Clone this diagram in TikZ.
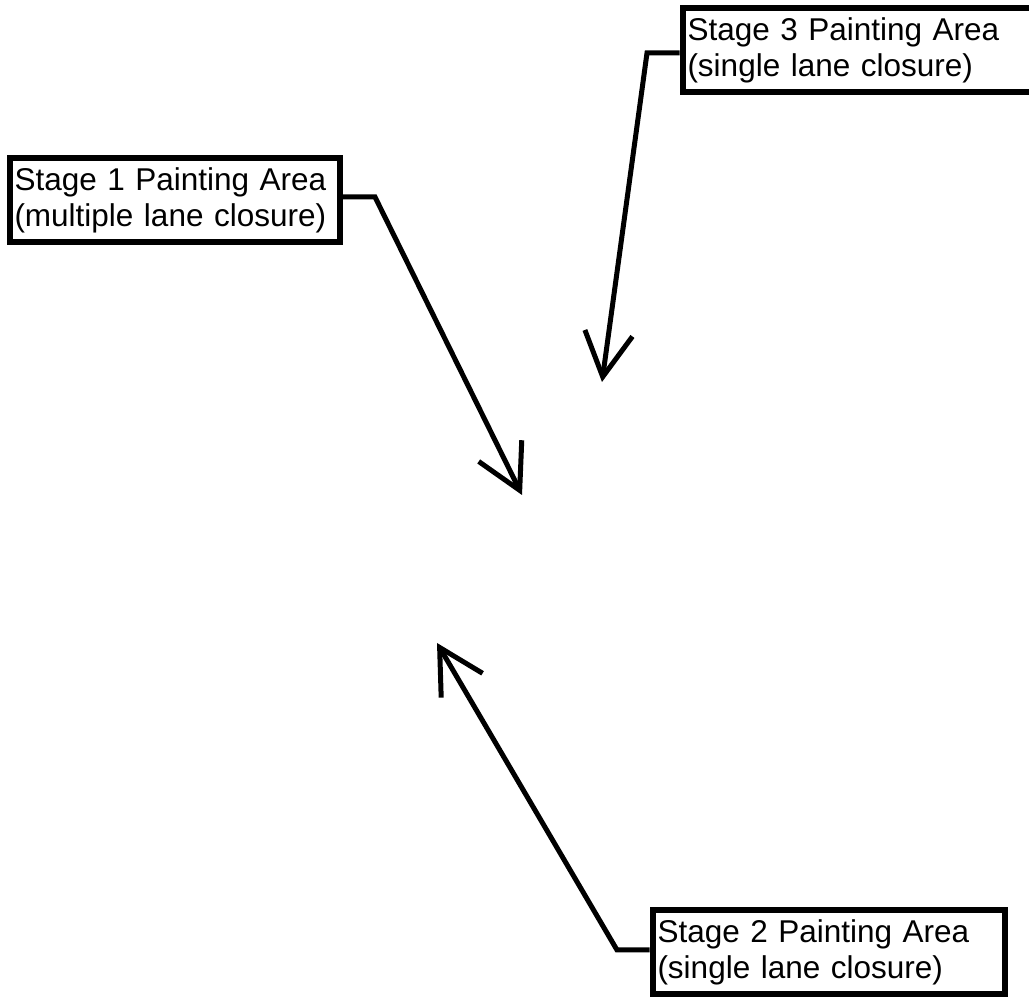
\documentclass[tikz,border=0pt]{standalone}
\usepackage{fontspec}
\setmainfont{Liberation Sans}
\usetikzlibrary{arrows.meta}
\begin{document}
\begin{tikzpicture}[x=1pt,y=1pt,
  lbl/.style={draw,line width=6pt,fill=white,inner xsep=5pt,inner ysep=0pt,
    align=left,font=\fontsize{31.5}{36}\selectfont,minimum height=84pt},
  conn/.style={line width=5pt,-{Straight Barb[length=44pt,width=48pt]}}]
\useasboundingbox (0,0) rectangle (1029,1003);
\node[lbl,text width=320pt] (s1) at (174.5,803) {Stage 1 Painting Area\\(multiple lane closure)};
\node[lbl,text width=355pt] (s3) at (865,952.5) {Stage 3 Painting Area\\(single lane closure)};
\node[lbl,text width=342pt] (s2) at (828.5,51) {Stage 2 Painting Area\\(single lane closure)};
\coordinate (b1) at (375,806);
\coordinate (t1) at (522,508);
\coordinate (b3) at (647,950);
\coordinate (t3) at (602,621);
\coordinate (b2) at (617,53);
\coordinate (t2) at (437,360);
\draw[conn] (s1.east |- b1) -- (b1) -- (t1);
\draw[conn] (s3.west |- b3) -- (b3) -- (t3);
\draw[conn] (s2.west |- b2) -- (b2) -- (t2);
\end{tikzpicture}
\end{document}
